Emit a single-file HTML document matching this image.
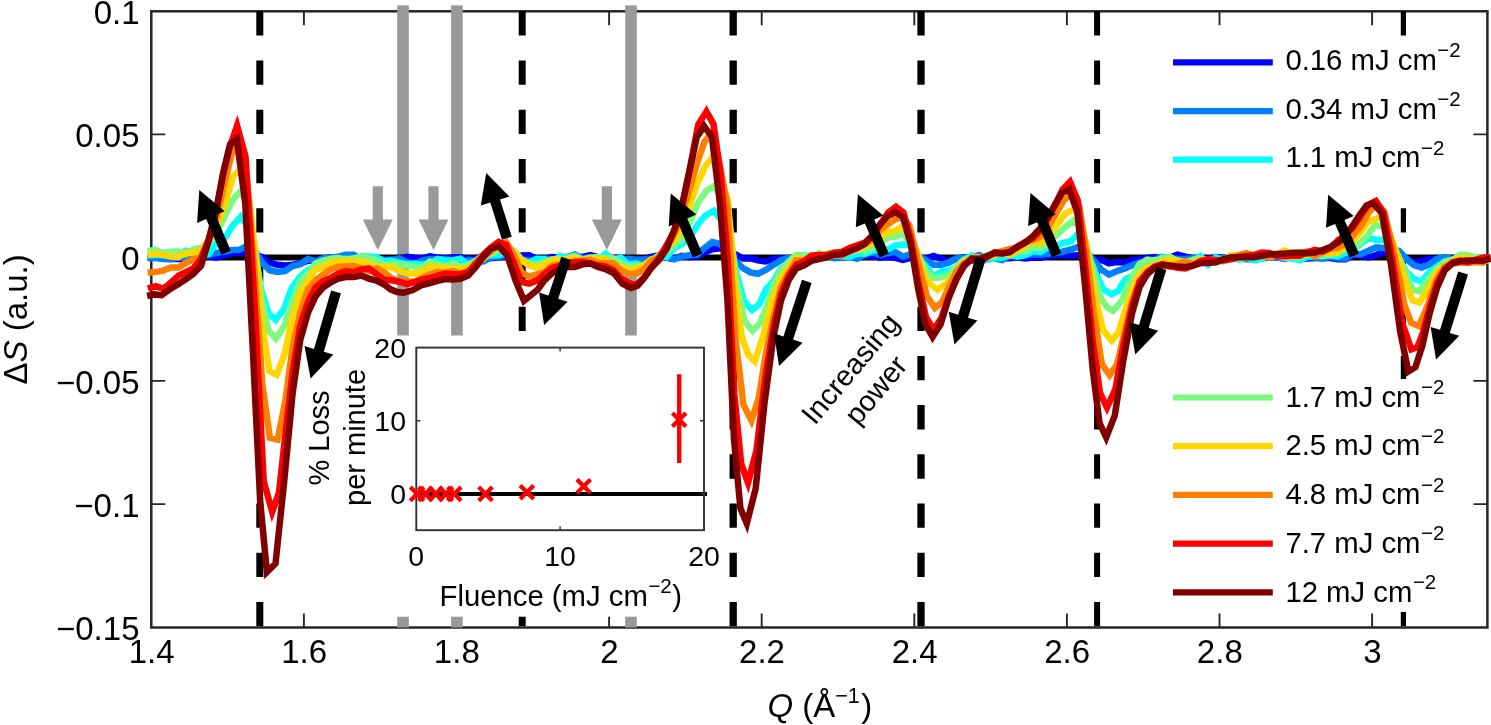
<!DOCTYPE html>
<html lang="en"><head><meta charset="utf-8"><title>Differential scattering vs Q</title>
<style>html,body{margin:0;padding:0;background:#fff}body{width:1491px;height:725px;overflow:hidden}</style></head>
<body>
<svg width="1491" height="725" viewBox="0 0 1491 725" style="display:block;transform:translateZ(0);will-change:transform">
<rect width="1491" height="725" fill="#fff"/>
<rect x="151.3" y="11.3" width="1336.1" height="616.2" fill="none" stroke="#262626" stroke-width="2.5"/>
<path d="M303.9 11.3v14 M303.9 627.5v-14 M456.5 11.3v14 M456.5 627.5v-14 M609.1 11.3v14 M609.1 627.5v-14 M761.7 11.3v14 M761.7 627.5v-14 M914.3 11.3v14 M914.3 627.5v-14 M1066.9 11.3v14 M1066.9 627.5v-14 M1219.5 11.3v14 M1219.5 627.5v-14 M1372.1 11.3v14 M1372.1 627.5v-14 M151.3 134.4h14 M1487.4 134.4h-14 M151.3 257.6h14 M1487.4 257.6h-14 M151.3 380.9h14 M1487.4 380.9h-14 M151.3 504.1h14 M1487.4 504.1h-14" stroke="#262626" stroke-width="1.9" fill="none"/>
<rect x="397.2" y="5.4" width="11.6" height="622.1" fill="#999"/>
<rect x="451.1" y="5.4" width="11.6" height="622.1" fill="#999"/>
<rect x="625.2" y="5.4" width="11.6" height="622.1" fill="#999"/>
<line x1="259.8" y1="11.27" x2="259.8" y2="627.5" stroke="#000" stroke-width="7.0" stroke-dasharray="24.3 24.93"/>
<line x1="522.2" y1="11.27" x2="522.2" y2="627.5" stroke="#000" stroke-width="7.0" stroke-dasharray="24.3 24.93"/>
<line x1="733.2" y1="11.27" x2="733.2" y2="627.5" stroke="#000" stroke-width="7.3" stroke-dasharray="24.3 24.93"/>
<line x1="921.0" y1="11.27" x2="921.0" y2="627.5" stroke="#000" stroke-width="7.3" stroke-dasharray="24.3 24.93"/>
<line x1="1097.1" y1="11.27" x2="1097.1" y2="627.5" stroke="#000" stroke-width="6.0" stroke-dasharray="24.3 24.93"/>
<line x1="1403.4" y1="11.27" x2="1403.4" y2="627.5" stroke="#000" stroke-width="5.2" stroke-dasharray="24.3 24.93"/>
<line x1="151.3" y1="257.6" x2="1487.4" y2="257.6" stroke="#000" stroke-width="6"/>
<g fill="none" stroke-width="6.5" stroke-linejoin="miter" stroke-miterlimit="8" stroke-linecap="butt">
<path d="M147.6 257.2 L155.3 257.1 L162.9 257.6 L170.5 258.9 L178.2 258.9 L185.8 259.2 L193.4 258.2 L201.0 255.4 L208.7 256.4 L216.3 257.7 L223.9 255.4 L231.6 253.3 L239.2 252.6 L246.8 253.9 L254.5 255.3 L262.1 257.0 L269.7 262.6 L277.3 264.8 L285.0 265.5 L292.6 264.7 L300.2 263.5 L307.9 260.8 L315.5 260.2 L323.1 258.8 L330.8 257.4 L338.4 257.9 L346.0 261.3 L353.6 260.7 L361.3 258.2 L368.9 257.6 L376.5 259.6 L384.2 259.6 L391.8 259.4 L399.4 259.6 L407.1 256.9 L414.7 257.8 L422.3 258.4 L429.9 256.4 L437.6 257.6 L445.2 258.2 L452.8 257.5 L460.5 257.4 L468.1 259.1 L475.7 258.5 L483.4 255.5 L491.0 258.2 L498.6 257.4 L506.2 256.2 L513.9 258.0 L521.5 255.5 L529.1 255.2 L536.8 259.0 L544.4 258.9 L552.0 257.0 L559.7 257.5 L567.3 257.0 L574.9 257.2 L582.5 256.8 L590.2 255.1 L597.8 257.2 L605.4 258.0 L613.1 258.2 L620.7 258.1 L628.3 259.6 L636.0 260.0 L643.6 258.9 L651.2 256.8 L658.8 255.2 L666.5 257.9 L674.1 258.9 L681.7 255.8 L689.4 257.1 L697.0 256.0 L704.6 252.5 L712.3 249.3 L719.9 248.2 L727.5 250.8 L735.1 254.2 L742.8 258.4 L750.4 258.3 L758.0 260.4 L765.7 261.4 L773.3 259.2 L780.9 258.3 L788.6 258.2 L796.2 259.1 L803.8 258.3 L811.4 257.9 L819.1 256.1 L826.7 255.3 L834.3 256.7 L842.0 256.3 L849.6 257.1 L857.2 256.0 L864.9 256.1 L872.5 256.1 L880.1 257.8 L887.7 256.9 L895.4 257.8 L903.0 259.9 L910.6 257.9 L918.3 258.0 L925.9 258.6 L933.5 256.0 L941.2 258.7 L948.8 260.8 L956.4 258.8 L964.0 257.2 L971.7 257.5 L979.3 258.0 L986.9 256.8 L994.6 256.2 L1002.2 258.2 L1009.8 258.3 L1017.5 257.3 L1025.1 258.5 L1032.7 257.6 L1040.3 257.7 L1048.0 256.0 L1055.6 255.0 L1063.2 255.3 L1070.9 255.7 L1078.5 255.3 L1086.1 258.0 L1093.8 260.5 L1101.4 259.9 L1109.0 263.4 L1116.6 262.0 L1124.3 262.4 L1131.9 260.2 L1139.5 259.2 L1147.2 257.9 L1154.8 257.0 L1162.4 259.7 L1170.1 257.4 L1177.7 254.7 L1185.3 256.6 L1192.9 258.2 L1200.6 258.2 L1208.2 259.1 L1215.8 257.1 L1223.5 257.4 L1231.1 258.2 L1238.7 258.7 L1246.4 259.1 L1254.0 259.8 L1261.6 256.9 L1269.2 256.6 L1276.9 256.3 L1284.5 256.6 L1292.1 258.3 L1299.8 258.5 L1307.4 258.4 L1315.0 257.9 L1322.7 257.8 L1330.3 258.0 L1337.9 259.3 L1345.5 259.3 L1353.2 255.1 L1360.8 255.6 L1368.4 257.4 L1376.1 255.1 L1383.7 251.9 L1391.3 254.8 L1399.0 257.0 L1406.6 258.5 L1414.2 262.3 L1421.8 260.6 L1429.5 259.1 L1437.1 258.9 L1444.7 259.3 L1452.4 258.0 L1460.0 258.0 L1467.6 258.3 L1475.3 259.3 L1482.9 260.3 L1490.5 256.9" stroke="#0000ff"/>
<path d="M147.6 257.9 L155.3 258.1 L162.9 258.9 L170.5 259.3 L178.2 257.3 L185.8 257.9 L193.4 257.9 L201.0 257.3 L208.7 254.6 L216.3 253.0 L223.9 251.6 L231.6 250.0 L239.2 249.8 L246.8 246.1 L254.5 250.1 L262.1 262.5 L269.7 270.2 L277.3 271.9 L285.0 271.0 L292.6 266.0 L300.2 264.3 L307.9 259.0 L315.5 261.1 L323.1 258.5 L330.8 257.4 L338.4 256.7 L346.0 254.7 L353.6 254.7 L361.3 259.3 L368.9 261.7 L376.5 258.3 L384.2 260.0 L391.8 260.0 L399.4 258.5 L407.1 262.3 L414.7 264.5 L422.3 260.5 L429.9 259.1 L437.6 259.6 L445.2 259.1 L452.8 260.4 L460.5 262.1 L468.1 260.3 L475.7 260.4 L483.4 261.3 L491.0 257.4 L498.6 256.5 L506.2 255.8 L513.9 258.1 L521.5 259.4 L529.1 260.8 L536.8 260.7 L544.4 258.8 L552.0 259.4 L559.7 258.0 L567.3 257.2 L574.9 254.5 L582.5 259.0 L590.2 257.1 L597.8 257.5 L605.4 258.2 L613.1 260.7 L620.7 260.3 L628.3 258.7 L636.0 259.7 L643.6 259.6 L651.2 259.4 L658.8 256.3 L666.5 256.5 L674.1 259.4 L681.7 256.6 L689.4 255.3 L697.0 254.7 L704.6 248.0 L712.3 242.1 L719.9 243.9 L727.5 250.5 L735.1 260.7 L742.8 268.0 L750.4 272.4 L758.0 273.8 L765.7 269.9 L773.3 265.1 L780.9 260.2 L788.6 258.0 L796.2 257.4 L803.8 259.1 L811.4 257.2 L819.1 258.1 L826.7 255.7 L834.3 258.3 L842.0 257.8 L849.6 256.9 L857.2 258.7 L864.9 254.2 L872.5 252.3 L880.1 254.8 L887.7 252.9 L895.4 252.0 L903.0 256.7 L910.6 254.3 L918.3 255.9 L925.9 260.0 L933.5 264.7 L941.2 264.7 L948.8 262.7 L956.4 258.4 L964.0 257.6 L971.7 257.7 L979.3 255.0 L986.9 257.7 L994.6 258.3 L1002.2 260.0 L1009.8 255.5 L1017.5 254.3 L1025.1 254.3 L1032.7 254.2 L1040.3 254.6 L1048.0 253.8 L1055.6 253.1 L1063.2 251.5 L1070.9 249.5 L1078.5 246.7 L1086.1 250.8 L1093.8 260.6 L1101.4 269.6 L1109.0 274.6 L1116.6 271.2 L1124.3 268.6 L1131.9 265.4 L1139.5 262.7 L1147.2 262.0 L1154.8 259.6 L1162.4 256.9 L1170.1 258.4 L1177.7 259.0 L1185.3 258.9 L1192.9 258.3 L1200.6 260.8 L1208.2 259.3 L1215.8 259.5 L1223.5 257.0 L1231.1 258.5 L1238.7 257.1 L1246.4 254.6 L1254.0 257.0 L1261.6 258.5 L1269.2 257.4 L1276.9 257.2 L1284.5 258.8 L1292.1 257.0 L1299.8 253.5 L1307.4 256.3 L1315.0 257.5 L1322.7 258.7 L1330.3 256.8 L1337.9 258.2 L1345.5 258.4 L1353.2 253.5 L1360.8 254.3 L1368.4 250.7 L1376.1 247.3 L1383.7 248.0 L1391.3 249.4 L1399.0 251.0 L1406.6 259.0 L1414.2 265.3 L1421.8 267.5 L1429.5 264.4 L1437.1 258.8 L1444.7 257.0 L1452.4 259.3 L1460.0 259.9 L1467.6 259.1 L1475.3 257.6 L1482.9 258.0 L1490.5 257.5" stroke="#0080ff"/>
<path d="M147.6 255.3 L155.3 254.9 L162.9 254.7 L170.5 255.3 L178.2 253.8 L185.8 250.7 L193.4 252.9 L201.0 253.1 L208.7 253.9 L216.3 243.4 L224.4 238.7 L232.5 225.9 L240.6 216.8 L247.7 225.8 L254.9 254.3 L261.5 290.6 L268.6 313.6 L275.7 319.8 L283.9 309.2 L292.1 287.2 L300.2 276.6 L307.9 270.1 L315.5 266.3 L323.1 261.5 L330.8 260.4 L338.4 261.8 L346.0 258.7 L353.6 261.1 L361.3 256.2 L368.9 256.5 L376.5 257.1 L384.2 261.3 L391.8 260.5 L399.4 262.9 L407.1 263.9 L414.7 263.5 L422.3 264.6 L429.9 264.1 L437.6 258.9 L445.2 260.7 L452.8 260.2 L460.5 258.7 L468.1 264.3 L475.7 261.1 L483.4 257.2 L491.0 254.9 L498.6 255.2 L506.2 251.7 L513.9 255.0 L521.5 261.0 L529.1 262.6 L536.8 258.7 L544.4 259.0 L552.0 263.3 L559.7 256.0 L567.3 257.3 L574.9 255.6 L582.5 259.2 L590.2 258.4 L597.8 260.8 L605.4 253.5 L613.1 259.9 L620.7 257.6 L628.3 264.6 L636.0 263.4 L643.6 266.3 L651.2 260.9 L658.8 255.2 L666.5 257.3 L674.1 248.0 L681.7 244.2 L689.4 238.4 L697.6 224.7 L705.8 215.2 L714.0 210.7 L721.0 219.7 L728.1 229.4 L735.7 270.0 L743.9 300.9 L752.2 310.0 L759.2 304.3 L766.2 289.1 L773.3 281.5 L780.9 268.3 L788.6 263.9 L796.2 260.9 L803.8 256.0 L811.4 258.2 L819.1 253.5 L826.7 257.9 L834.3 254.8 L842.0 256.1 L849.6 257.1 L857.2 253.4 L864.9 253.9 L872.5 250.8 L880.1 249.8 L887.7 249.4 L895.4 245.4 L903.0 244.5 L910.6 244.9 L918.3 257.7 L925.9 266.5 L933.5 276.4 L941.2 271.4 L948.8 270.5 L956.4 267.1 L964.0 259.9 L971.7 255.5 L979.3 260.2 L986.9 260.0 L994.6 258.1 L1002.2 257.8 L1009.8 255.1 L1017.5 256.7 L1025.1 255.3 L1032.7 251.1 L1040.3 252.2 L1048.0 247.3 L1055.6 246.6 L1063.2 242.9 L1070.9 241.2 L1078.5 233.4 L1086.1 249.5 L1094.6 270.5 L1103.0 289.0 L1111.5 294.3 L1118.3 290.7 L1125.1 279.5 L1131.9 276.0 L1139.5 269.5 L1147.2 264.3 L1154.8 262.8 L1162.4 257.4 L1170.1 257.4 L1177.7 261.6 L1185.3 262.6 L1192.9 260.3 L1200.6 256.1 L1208.2 264.5 L1215.8 257.4 L1223.5 260.7 L1231.1 255.7 L1238.7 259.7 L1246.4 257.8 L1254.0 260.3 L1261.6 259.0 L1269.2 253.8 L1276.9 254.9 L1284.5 257.4 L1292.1 258.3 L1299.8 260.3 L1307.4 257.0 L1315.0 256.0 L1322.7 255.8 L1330.3 255.2 L1337.9 256.4 L1345.5 252.6 L1353.2 249.9 L1360.8 243.6 L1368.4 238.3 L1376.1 239.7 L1383.7 239.8 L1391.3 245.1 L1399.0 258.3 L1406.6 272.5 L1414.2 279.0 L1421.8 281.4 L1429.5 271.9 L1437.1 266.7 L1444.7 261.2 L1452.4 259.8 L1460.0 260.0 L1467.6 260.4 L1475.3 258.8 L1482.9 259.4 L1490.5 257.5" stroke="#00ffff"/>
<path d="M147.6 251.2 L155.3 249.8 L162.9 253.2 L170.5 251.8 L178.2 251.6 L185.8 254.2 L193.4 249.2 L201.0 247.6 L208.7 243.1 L216.3 233.1 L224.4 217.1 L232.5 200.0 L240.6 191.1 L247.7 205.5 L254.9 246.7 L261.5 298.0 L268.6 330.8 L275.7 338.6 L283.9 326.8 L292.1 302.2 L300.2 280.9 L307.9 273.4 L315.5 263.4 L323.1 260.6 L330.8 258.8 L338.4 258.0 L346.0 259.4 L353.6 258.2 L361.3 256.7 L368.9 257.9 L376.5 260.2 L384.2 264.9 L391.8 263.4 L399.4 264.3 L407.1 265.5 L414.7 266.7 L422.3 267.5 L429.9 261.6 L437.6 263.7 L445.2 267.2 L452.8 263.0 L460.5 266.8 L468.1 265.4 L475.7 261.1 L483.4 254.4 L491.0 254.0 L498.6 249.9 L506.2 246.4 L513.9 250.5 L521.5 259.4 L529.1 263.3 L536.8 265.0 L544.4 262.7 L552.0 259.4 L559.7 258.9 L567.3 258.7 L574.9 257.3 L582.5 260.1 L590.2 257.6 L597.8 257.2 L605.4 258.0 L613.1 258.3 L620.7 262.3 L628.3 266.5 L636.0 265.8 L643.6 266.8 L651.2 263.3 L658.8 255.0 L666.5 252.0 L674.1 244.8 L681.7 239.8 L689.4 222.9 L697.7 203.5 L706.0 191.2 L714.4 185.9 L721.3 197.0 L728.2 211.4 L735.9 278.1 L744.2 320.2 L752.5 330.7 L759.4 324.1 L766.4 308.0 L773.3 285.8 L780.9 270.4 L788.6 261.9 L796.2 255.0 L803.8 255.2 L811.4 255.8 L819.1 255.1 L826.7 253.8 L834.3 255.4 L842.0 254.2 L849.6 251.6 L857.2 248.8 L864.9 251.2 L872.5 248.3 L880.1 243.6 L887.7 237.6 L895.4 236.8 L903.0 233.6 L910.6 242.5 L918.3 255.3 L925.9 271.0 L933.5 277.8 L941.2 277.2 L948.8 274.8 L956.4 266.5 L964.0 259.6 L971.7 259.1 L979.3 258.9 L986.9 254.9 L994.6 254.2 L1002.2 253.1 L1009.8 255.3 L1017.5 251.1 L1025.1 251.4 L1032.7 247.2 L1040.3 248.2 L1048.0 243.6 L1056.4 235.0 L1064.9 227.3 L1073.4 220.8 L1080.2 226.6 L1087.0 247.9 L1093.8 273.7 L1100.2 297.0 L1106.7 306.9 L1113.1 310.8 L1121.9 300.6 L1130.7 279.3 L1139.5 264.1 L1147.2 259.6 L1154.8 260.5 L1162.4 258.6 L1170.1 257.0 L1177.7 260.8 L1185.3 262.2 L1192.9 259.9 L1200.6 258.9 L1208.2 260.8 L1215.8 262.4 L1223.5 261.3 L1231.1 256.7 L1238.7 258.7 L1246.4 256.9 L1254.0 256.0 L1261.6 255.4 L1269.2 256.8 L1276.9 255.4 L1284.5 257.7 L1292.1 256.7 L1299.8 257.2 L1307.4 253.2 L1315.0 255.3 L1322.7 256.1 L1330.3 254.2 L1337.9 252.2 L1345.5 248.6 L1353.2 248.9 L1360.5 242.5 L1367.8 235.1 L1375.2 224.8 L1383.1 226.7 L1391.0 240.4 L1399.0 257.7 L1405.9 274.2 L1412.9 289.8 L1419.8 291.1 L1428.1 279.1 L1436.4 269.6 L1444.7 262.0 L1452.4 260.5 L1460.0 254.5 L1467.6 255.2 L1475.3 257.3 L1482.9 257.7 L1490.5 261.8" stroke="#7dfa7d"/>
<path d="M147.6 254.9 L155.3 253.7 L162.9 254.9 L170.5 256.5 L178.2 257.1 L185.8 252.7 L193.4 252.9 L201.0 249.9 L208.7 241.7 L216.3 226.4 L224.9 203.6 L233.5 175.7 L242.1 167.5 L248.7 195.6 L255.4 254.2 L261.9 323.3 L269.4 371.1 L276.8 374.8 L284.6 354.0 L292.4 317.6 L300.2 292.5 L307.9 280.7 L315.5 269.3 L323.1 267.4 L330.8 262.1 L338.4 261.6 L346.0 261.1 L353.6 260.8 L361.3 261.8 L368.9 263.9 L376.5 267.3 L384.2 266.7 L391.8 267.6 L399.4 270.8 L407.1 273.2 L414.7 273.4 L422.3 271.7 L429.9 266.4 L437.6 268.1 L445.2 267.3 L452.8 268.9 L460.5 268.6 L468.1 267.9 L475.7 263.5 L483.4 259.0 L491.0 251.0 L498.6 243.7 L506.2 246.8 L513.9 252.6 L521.5 260.0 L529.1 265.4 L536.8 267.5 L544.4 263.9 L552.0 260.1 L559.7 260.2 L567.3 259.0 L574.9 257.2 L582.5 260.1 L590.2 258.1 L597.8 259.8 L605.4 258.6 L613.1 265.8 L620.7 267.1 L628.3 270.3 L636.0 268.4 L643.6 265.3 L651.2 259.5 L658.8 258.0 L666.5 248.4 L674.1 240.3 L681.7 228.4 L689.4 206.4 L697.2 183.6 L705.0 166.9 L712.9 156.4 L720.3 177.1 L727.7 199.4 L735.1 286.9 L741.7 336.5 L748.3 354.9 L754.8 361.3 L763.6 334.6 L772.2 300.8 L780.9 278.7 L788.6 267.8 L796.2 258.3 L803.8 259.5 L811.4 259.4 L819.1 254.0 L826.7 254.3 L834.3 252.3 L842.0 252.6 L849.6 251.1 L857.2 249.8 L864.9 245.5 L872.5 243.1 L880.1 237.3 L887.3 232.1 L894.5 231.2 L901.7 226.9 L909.8 233.0 L917.8 254.3 L924.7 278.2 L931.2 285.0 L937.6 289.8 L946.4 283.8 L955.2 273.0 L964.0 261.9 L971.7 258.1 L979.3 257.3 L986.9 257.1 L994.6 255.3 L1002.2 252.1 L1009.8 254.8 L1017.5 250.9 L1025.1 245.8 L1032.7 241.3 L1040.3 243.3 L1048.0 236.2 L1056.6 225.4 L1065.2 213.5 L1073.8 209.3 L1080.4 217.5 L1087.1 248.6 L1094.6 293.8 L1103.0 330.1 L1111.5 340.5 L1118.3 332.6 L1125.1 311.0 L1131.9 290.3 L1139.5 273.8 L1147.2 267.3 L1154.8 265.5 L1162.4 261.0 L1170.1 259.5 L1177.7 260.6 L1185.3 262.2 L1192.9 262.7 L1200.6 259.5 L1208.2 260.9 L1215.8 261.8 L1223.5 259.9 L1231.1 255.2 L1238.7 256.1 L1246.4 254.5 L1254.0 256.7 L1261.6 254.6 L1269.2 257.0 L1276.9 254.8 L1284.5 250.5 L1292.1 253.8 L1299.8 255.6 L1307.4 254.5 L1315.0 252.9 L1322.7 251.3 L1330.3 253.4 L1337.9 252.8 L1345.5 246.5 L1353.2 240.2 L1360.8 232.0 L1367.9 222.4 L1375.0 219.1 L1382.0 215.7 L1390.2 235.2 L1398.4 258.3 L1405.8 283.7 L1412.6 300.4 L1419.4 302.4 L1427.9 290.1 L1436.3 271.8 L1444.7 266.6 L1452.4 260.8 L1460.0 258.0 L1467.6 257.9 L1475.3 259.6 L1482.9 258.3 L1490.5 258.7" stroke="#ffd600"/>
<path d="M147.6 272.5 L155.3 272.1 L162.9 270.7 L170.5 267.5 L178.2 267.6 L185.8 263.1 L193.4 259.1 L201.0 256.9 L208.7 241.6 L216.3 218.8 L224.0 185.4 L231.7 153.8 L239.4 144.1 L247.0 180.4 L254.5 273.5 L262.2 383.3 L269.9 437.9 L277.6 439.6 L285.1 402.4 L292.7 346.5 L300.2 312.3 L307.9 289.6 L315.5 280.3 L323.1 274.6 L330.8 269.2 L338.4 266.8 L346.0 266.5 L353.6 266.1 L361.3 268.4 L368.9 271.2 L376.5 268.4 L384.2 272.4 L391.8 278.4 L399.4 281.2 L407.1 281.2 L414.7 281.7 L422.3 277.9 L429.9 274.2 L437.6 271.9 L445.2 273.1 L452.8 271.1 L460.5 274.1 L468.1 271.3 L475.7 262.4 L483.4 257.2 L491.0 251.3 L498.6 244.7 L506.2 242.3 L513.9 254.7 L521.5 272.2 L529.1 276.7 L536.8 274.3 L544.4 271.8 L552.0 265.9 L559.7 264.3 L567.3 263.4 L574.9 262.5 L582.5 260.4 L590.2 259.9 L597.8 262.8 L605.4 263.0 L613.1 263.2 L620.7 269.9 L628.3 273.8 L636.0 273.7 L643.6 269.7 L651.2 261.0 L658.8 257.5 L666.5 247.6 L674.1 234.6 L681.7 215.0 L689.4 190.1 L696.9 163.6 L704.5 141.7 L712.1 132.8 L719.8 165.0 L727.5 206.8 L735.5 339.0 L743.4 404.6 L751.4 420.4 L758.7 398.0 L766.0 352.8 L773.3 318.6 L780.9 286.9 L788.6 273.1 L796.2 260.4 L803.8 260.7 L811.4 258.8 L819.1 256.0 L826.7 256.5 L834.3 255.1 L842.0 255.3 L849.6 251.2 L857.2 247.4 L864.9 243.8 L872.5 239.5 L880.1 230.3 L887.1 224.9 L894.0 220.0 L900.9 217.0 L909.3 225.2 L918.0 261.7 L926.8 296.0 L934.9 308.0 L942.1 302.0 L949.2 286.4 L956.4 271.4 L964.0 264.0 L971.7 258.1 L979.3 257.8 L986.9 256.5 L994.6 253.2 L1002.2 251.2 L1009.8 249.0 L1017.5 247.6 L1025.1 242.2 L1032.7 240.1 L1040.3 236.7 L1048.0 227.2 L1056.1 213.3 L1064.1 199.8 L1072.2 193.2 L1079.4 207.3 L1086.6 254.8 L1094.0 314.0 L1101.8 364.1 L1109.6 375.1 L1117.1 364.5 L1124.5 332.9 L1131.9 302.3 L1139.5 280.9 L1147.2 273.2 L1154.8 267.7 L1162.4 265.0 L1170.1 266.9 L1177.7 264.1 L1185.3 261.5 L1192.9 264.5 L1200.6 261.2 L1208.2 262.3 L1215.8 260.0 L1223.5 260.4 L1231.1 257.9 L1238.7 255.0 L1246.4 253.1 L1254.0 255.5 L1261.6 256.0 L1269.2 256.6 L1276.9 254.2 L1284.5 254.5 L1292.1 252.7 L1299.8 252.8 L1307.4 251.7 L1315.0 256.3 L1322.7 251.8 L1330.3 248.5 L1337.9 247.6 L1345.5 243.2 L1353.2 235.4 L1361.0 226.2 L1368.8 212.1 L1376.7 204.4 L1384.1 211.6 L1391.5 241.6 L1398.3 273.9 L1404.7 305.8 L1411.2 323.0 L1419.0 326.0 L1427.8 305.3 L1436.6 279.4 L1444.7 266.6 L1452.4 263.5 L1460.0 262.8 L1467.6 262.8 L1475.3 262.1 L1482.9 262.6 L1490.5 257.7" stroke="#ff8000"/>
<path d="M147.8 288.5 L155.7 286.1 L163.5 288.8 L170.9 282.6 L178.4 275.7 L185.8 272.2 L193.4 268.3 L201.0 258.8 L208.7 239.2 L216.3 211.0 L223.3 172.9 L230.2 145.7 L237.1 125.7 L245.5 156.6 L254.6 303.1 L263.7 481.3 L272.2 511.8 L279.0 492.7 L285.8 430.5 L292.6 372.4 L300.2 325.8 L307.9 302.3 L315.5 287.4 L323.1 281.1 L330.8 277.9 L338.4 273.4 L346.0 271.0 L353.6 272.3 L361.3 269.4 L368.9 268.5 L376.5 274.2 L384.2 279.8 L391.8 280.2 L399.4 281.7 L407.1 284.1 L414.7 282.0 L422.3 279.5 L429.9 278.0 L437.6 275.7 L445.2 273.5 L452.8 274.1 L460.5 274.4 L468.1 271.9 L475.7 264.1 L483.4 254.8 L491.0 247.4 L498.6 241.9 L506.2 245.1 L513.9 263.2 L521.5 282.0 L529.1 283.7 L536.8 280.6 L544.4 274.1 L552.0 268.0 L559.7 266.0 L567.3 263.3 L574.9 261.7 L582.5 262.0 L590.2 263.1 L597.8 265.3 L605.4 266.4 L613.1 270.0 L620.7 277.8 L628.3 282.8 L636.0 285.2 L643.6 278.1 L651.2 268.1 L658.8 258.0 L666.5 245.5 L674.1 231.2 L681.7 208.1 L689.9 169.2 L698.2 124.6 L706.4 111.6 L713.4 123.9 L720.5 172.9 L727.5 256.8 L734.3 394.0 L741.2 463.8 L748.0 482.7 L756.4 450.7 L764.9 380.4 L773.3 327.5 L780.9 294.1 L788.6 275.8 L796.2 264.9 L803.8 261.3 L811.4 255.7 L819.1 254.9 L826.7 255.2 L834.3 252.6 L842.0 252.0 L849.6 248.0 L857.2 245.4 L864.9 242.6 L872.5 235.5 L880.3 224.5 L888.2 212.5 L896.0 206.8 L903.4 212.4 L910.8 238.6 L918.2 281.1 L925.8 316.5 L933.4 329.8 L941.1 318.7 L948.7 296.8 L956.4 279.8 L964.0 264.6 L971.7 259.9 L979.3 262.7 L986.9 257.3 L994.6 252.3 L1002.2 253.1 L1009.8 251.9 L1017.5 246.5 L1025.1 242.0 L1032.7 238.3 L1040.3 230.5 L1048.0 218.0 L1055.3 204.4 L1062.6 189.3 L1070.0 181.8 L1077.9 200.8 L1085.8 272.1 L1093.1 344.3 L1100.0 392.9 L1107.0 407.6 L1115.3 389.3 L1123.6 344.2 L1131.9 306.7 L1139.5 282.0 L1147.2 272.0 L1154.8 266.5 L1162.4 264.2 L1170.1 266.2 L1177.7 267.8 L1185.3 268.4 L1192.9 265.5 L1200.6 261.1 L1208.2 259.2 L1215.8 260.3 L1223.5 260.5 L1231.1 259.3 L1238.7 256.9 L1246.4 255.7 L1254.0 255.1 L1261.6 252.5 L1269.2 253.0 L1276.9 256.0 L1284.5 256.3 L1292.1 255.8 L1299.8 255.7 L1307.4 252.2 L1315.0 249.9 L1322.7 251.5 L1330.3 247.8 L1337.9 240.5 L1345.5 234.9 L1353.2 227.1 L1360.8 215.6 L1368.3 204.8 L1375.9 200.9 L1383.6 212.4 L1392.9 262.6 L1402.1 322.8 L1411.4 349.3 L1417.4 347.2 L1423.4 331.4 L1429.5 307.7 L1437.1 283.0 L1444.7 269.0 L1452.4 262.4 L1460.0 260.5 L1467.6 262.3 L1475.3 259.8 L1482.9 257.7 L1490.5 257.6" stroke="#ff0000"/>
<path d="M147.1 296.0 L154.3 294.4 L161.6 295.2 L169.7 289.3 L177.8 284.4 L185.8 279.3 L193.4 273.8 L201.0 265.7 L208.7 240.7 L216.3 209.7 L223.1 173.5 L230.0 144.3 L236.8 139.2 L245.2 202.7 L252.7 347.5 L260.2 501.6 L266.9 572.0 L275.5 563.5 L284.0 483.4 L292.6 393.5 L300.2 340.1 L307.9 313.0 L315.5 296.5 L323.1 287.5 L330.8 282.3 L338.4 278.6 L346.0 277.0 L353.6 277.1 L361.3 275.6 L368.9 278.6 L376.5 280.6 L384.2 284.5 L390.6 289.3 L397.1 292.1 L403.5 292.8 L412.3 290.3 L421.1 285.4 L429.9 283.0 L437.6 280.8 L445.2 279.1 L452.8 279.5 L460.5 278.8 L468.1 275.6 L475.7 267.3 L483.4 256.8 L491.0 248.6 L498.6 246.2 L507.1 255.1 L515.5 280.3 L524.0 300.7 L530.8 295.3 L537.6 289.7 L544.4 280.4 L552.0 273.4 L559.7 269.6 L567.3 266.9 L574.9 266.9 L582.5 264.3 L590.2 263.4 L597.8 266.9 L605.4 269.1 L613.9 273.2 L622.4 283.6 L630.8 287.9 L637.6 285.6 L644.4 277.7 L651.2 267.9 L658.8 260.1 L666.5 249.1 L674.1 230.2 L681.7 207.2 L689.2 172.0 L696.6 137.5 L704.1 126.2 L711.9 136.9 L719.7 201.7 L727.5 300.8 L734.0 439.5 L740.4 508.2 L746.8 523.5 L755.7 488.4 L764.5 403.2 L773.3 337.5 L780.9 300.9 L788.6 280.3 L796.2 268.4 L803.8 265.5 L811.4 260.9 L819.1 259.0 L826.7 257.4 L834.3 254.7 L842.0 254.2 L849.6 251.0 L857.2 248.0 L864.9 244.0 L872.5 235.0 L880.1 224.4 L887.6 216.1 L895.2 212.3 L902.9 216.8 L910.6 243.5 L918.0 287.7 L925.3 323.8 L932.6 336.9 L940.6 324.4 L948.5 298.5 L956.4 278.5 L964.0 266.3 L971.7 258.5 L979.3 258.9 L986.9 256.3 L994.6 253.1 L1002.2 253.6 L1009.8 252.2 L1017.5 246.9 L1025.1 242.8 L1032.7 236.4 L1040.3 228.1 L1048.0 217.2 L1055.1 204.6 L1062.1 192.5 L1069.2 189.3 L1077.4 212.3 L1085.6 291.3 L1092.8 370.2 L1099.5 422.9 L1106.2 437.4 L1114.8 415.4 L1123.3 360.6 L1131.9 313.8 L1139.5 287.0 L1147.2 274.4 L1154.8 267.6 L1162.4 265.0 L1170.1 265.6 L1177.7 266.6 L1185.3 267.1 L1192.9 265.6 L1200.6 263.1 L1208.2 262.9 L1215.8 262.2 L1223.5 259.1 L1231.1 257.3 L1238.7 257.3 L1246.4 257.1 L1254.0 257.2 L1261.6 255.8 L1269.2 254.2 L1276.9 253.9 L1284.5 253.6 L1292.1 253.0 L1299.8 252.7 L1307.4 253.2 L1315.0 252.5 L1322.7 250.0 L1330.3 247.0 L1337.9 242.6 L1345.5 235.3 L1353.2 224.8 L1359.9 214.5 L1366.6 205.4 L1373.2 203.1 L1381.8 213.1 L1391.0 264.7 L1400.1 330.9 L1408.3 371.5 L1415.4 367.2 L1422.4 345.6 L1429.5 313.9 L1437.1 287.6 L1444.7 270.5 L1452.4 263.3 L1460.0 261.3 L1467.6 260.6 L1475.3 260.5 L1482.9 260.8 L1490.5 258.6" stroke="#800000"/>
</g>
<polygon points="230.8,250.7 215.6,215.1 224.7,211.2 199.3,190.0 197.1,223.0 206.2,219.1 221.4,254.7" fill="#000"/>
<polygon points="331.1,290.4 314.0,348.9 304.5,346.1 310.6,378.6 333.3,354.5 323.8,351.7 340.9,293.2" fill="#000"/>
<polygon points="511.8,236.7 500.0,199.5 509.4,196.5 486.2,172.9 480.8,205.6 490.3,202.6 502.0,239.7" fill="#000"/>
<polygon points="561.3,256.8 548.5,295.5 539.1,292.4 544.1,325.1 567.6,301.8 558.2,298.7 570.9,260.0" fill="#000"/>
<polygon points="702.3,253.6 687.2,218.6 696.3,214.6 670.8,193.5 668.7,226.5 677.8,222.6 692.9,257.6" fill="#000"/>
<polygon points="802.0,279.8 783.4,336.4 774.0,333.3 779.0,366.0 802.5,342.7 793.1,339.6 811.6,283.0" fill="#000"/>
<polygon points="888.9,253.5 874.2,219.4 883.3,215.5 857.9,194.3 855.8,227.3 864.9,223.4 879.5,257.5" fill="#000"/>
<polygon points="975.8,256.8 958.2,314.7 948.7,311.8 954.5,344.4 977.4,320.5 968.0,317.7 985.6,259.8" fill="#000"/>
<polygon points="1061.3,253.2 1046.6,218.3 1055.8,214.5 1030.5,193.1 1028.1,226.1 1037.2,222.3 1051.9,257.2" fill="#000"/>
<polygon points="1156.5,267.0 1139.0,324.9 1129.5,322.0 1135.3,354.6 1158.2,330.7 1148.7,327.8 1166.3,270.0" fill="#000"/>
<polygon points="1358.9,253.7 1344.5,219.9 1353.6,216.0 1328.2,194.8 1326.0,227.8 1335.1,223.9 1349.5,257.7" fill="#000"/>
<polygon points="1458.2,271.6 1440.0,329.8 1430.6,326.9 1436.1,359.5 1459.2,335.8 1449.8,332.9 1468.0,274.6" fill="#000"/>
<polygon points="372.7,186.3 372.7,219.5 362.8,219.5 377.8,250.0 392.8,219.5 382.9,219.5 382.9,186.3" fill="#999"/>
<polygon points="428.4,186.3 428.4,219.5 418.5,219.5 433.5,250.0 448.5,219.5 438.6,219.5 438.6,186.3" fill="#999"/>
<polygon points="601.8,186.3 601.8,219.5 591.9,219.5 606.9,250.0 621.9,219.5 612.0,219.5 612.0,186.3" fill="#999"/>
<rect x="350" y="335.5" width="370" height="281.2" fill="#fff"/>
<rect x="1166" y="38" width="300" height="148" fill="#fff"/>
<rect x="1166" y="379" width="300" height="233" fill="#fff"/>
<line x1="416.3" y1="493.9" x2="707.0" y2="493.9" stroke="#000" stroke-width="4"/>
<rect x="416.3" y="347.6" width="287.7" height="182.6" fill="none" stroke="#303030" stroke-width="1.9"/>
<path d="M560.1 347.6v4 M560.1 530.2v-4 M416.3 420.7h4 M704.0 420.7h-4" stroke="#333" stroke-width="1.4" fill="none"/>
<path d="M416.3 493.9h4 M704.0 493.9h-4" stroke="#333" stroke-width="1.4" fill="none"/>
<g stroke="#ff0000" stroke-width="4.3" fill="none">
<path d="M410.3 487.1L423.9 500.7M410.3 500.7L423.9 487.1"/>
<path d="M418.6 487.1L432.2 500.7M418.6 500.7L432.2 487.1"/>
<path d="M429.0 487.1L442.6 500.7M429.0 500.7L442.6 487.1"/>
<path d="M439.2 487.1L452.8 500.7M439.2 500.7L452.8 487.1"/>
<path d="M447.5 487.1L461.1 500.7M447.5 500.7L461.1 487.1"/>
<path d="M478.7 487.1L492.3 500.7M478.7 500.7L492.3 487.1"/>
<path d="M520.1 485.5L533.7 499.1M520.1 499.1L533.7 485.5"/>
<path d="M576.9 479.4L590.5 493.0M576.9 493.0L590.5 479.4"/>
<path d="M672.4 412.9L686.0 426.5M672.4 426.5L686.0 412.9"/>
<path d="M679.2 374.2V463" stroke-width="4.4"/>
</g>
<g font-family='"Liberation Sans", Arial, Helvetica, sans-serif' fill="#000">
<g font-size="33" text-anchor="end">
<text x="139.5" y="23.7">0.1</text>
<text x="139.5" y="147.0">0.05</text>
<text x="139.5" y="270.2">0</text>
<text x="139.5" y="393.5">−0.05</text>
<text x="139.5" y="516.7">−0.1</text>
<text x="139.5" y="640.0">−0.15</text>
</g>
<g font-size="33" text-anchor="middle">
<text x="151.6" y="662.9">1.4</text>
<text x="304.2" y="662.9">1.6</text>
<text x="456.8" y="662.9">1.8</text>
<text x="609.4" y="662.9">2</text>
<text x="762.0" y="662.9">2.2</text>
<text x="914.6" y="662.9">2.4</text>
<text x="1067.2" y="662.9">2.6</text>
<text x="1219.8" y="662.9">2.8</text>
<text x="1372.4" y="662.9">3</text>
</g>
<text font-size="33" y="717"><tspan x="767.5" font-style="italic">Q</tspan><tspan x="802.2">(Å</tspan><tspan font-size="21.5" dy="-13.8">−1</tspan><tspan dy="13.8" dx="1.5">)</tspan></text>
<text font-size="33" transform="translate(26.5 384.5) rotate(-90)">Δ<tspan font-style="italic">S</tspan> (a.u.)</text>
<line x1="1173" y1="62.35" x2="1272.8" y2="62.35" stroke="#0000ff" stroke-width="6.2"/>
<text font-size="29.3" x="1285.4" y="70.0">0.16 mJ cm<tspan font-size="20.5" dy="-12.6" dx="0.5">−2</tspan></text>
<line x1="1173" y1="111.1" x2="1272.8" y2="111.1" stroke="#0080ff" stroke-width="6.2"/>
<text font-size="29.3" x="1285.4" y="118.8">0.34 mJ cm<tspan font-size="20.5" dy="-12.6" dx="0.5">−2</tspan></text>
<line x1="1173" y1="159.7" x2="1272.8" y2="159.7" stroke="#00ffff" stroke-width="6.2"/>
<text font-size="29.3" x="1285.4" y="167.4">1.1 mJ cm<tspan font-size="20.5" dy="-12.6" dx="0.5">−2</tspan></text>
<line x1="1173" y1="397.5" x2="1272.8" y2="397.5" stroke="#7dfa7d" stroke-width="6.2"/>
<text font-size="29.3" x="1285.4" y="406.7">1.7 mJ cm<tspan font-size="20.5" dy="-12.6" dx="0.5">−2</tspan></text>
<line x1="1173" y1="446.2" x2="1272.8" y2="446.2" stroke="#ffd600" stroke-width="6.2"/>
<text font-size="29.3" x="1285.4" y="455.4">2.5 mJ cm<tspan font-size="20.5" dy="-12.6" dx="0.5">−2</tspan></text>
<line x1="1173" y1="494.9" x2="1272.8" y2="494.9" stroke="#ff8000" stroke-width="6.2"/>
<text font-size="29.3" x="1285.4" y="504.1">4.8 mJ cm<tspan font-size="20.5" dy="-12.6" dx="0.5">−2</tspan></text>
<line x1="1173" y1="543.6" x2="1272.8" y2="543.6" stroke="#ff0000" stroke-width="6.2"/>
<text font-size="29.3" x="1285.4" y="552.8">7.7 mJ cm<tspan font-size="20.5" dy="-12.6" dx="0.5">−2</tspan></text>
<line x1="1173" y1="592.35" x2="1272.8" y2="592.35" stroke="#800000" stroke-width="6.2"/>
<text font-size="29.3" x="1285.4" y="601.6">12 mJ cm<tspan font-size="20.5" dy="-12.6" dx="0.5">−2</tspan></text>
<g font-size="28.5" text-anchor="end">
<text x="406" y="357.8">20</text>
<text x="406" y="431.0">10</text>
<text x="406" y="504.2">0</text>
</g><g font-size="28.5" text-anchor="middle">
<text x="416.3" y="565.8">0</text>
<text x="560.1" y="565.8">10</text>
<text x="704.0" y="565.8">20</text>
</g>
<text font-size="29.3" x="439.5" y="605.8">Fluence (mJ cm<tspan font-size="20.5" dy="-12.6" dx="0.5">−2</tspan><tspan dy="12.6" dx="0.5">)</tspan></text>
<text font-size="29" text-anchor="middle" transform="translate(329.3 438) rotate(-90)">% Loss</text>
<text font-size="29" text-anchor="middle" transform="translate(364.5 437.5) rotate(-90)">per minute</text>
<g font-size="29" text-anchor="middle" transform="translate(857.8 374.8) rotate(-50)"><text x="0" y="0">Increasing</text><text x="0" y="33.4">power</text></g>
</g>
</svg>
</body></html>
